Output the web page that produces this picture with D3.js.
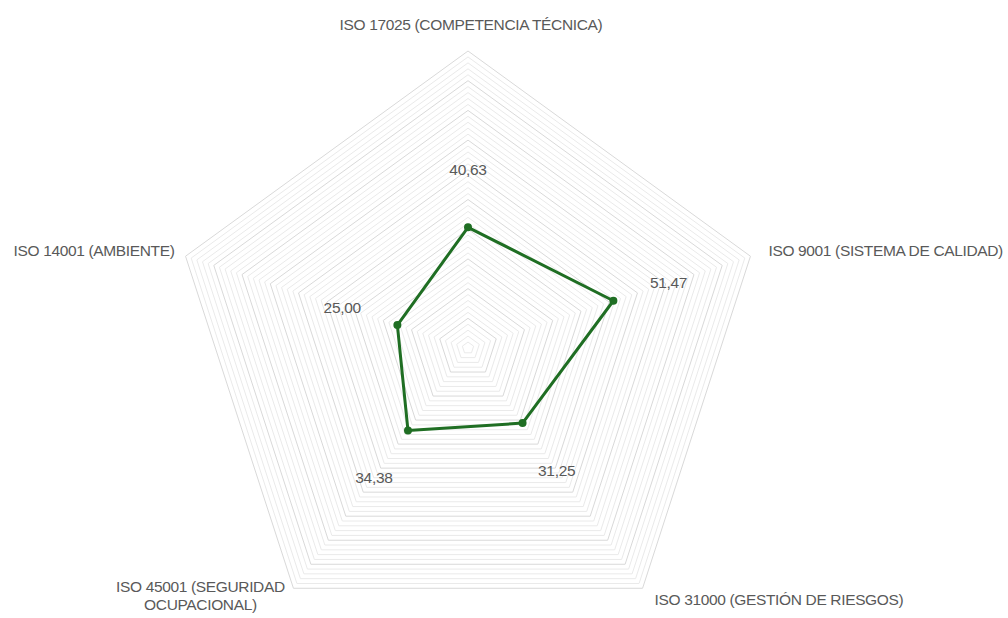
<!DOCTYPE html>
<html>
<head>
<meta charset="utf-8">
<script src="https://cdn.jsdelivr.net/npm/d3@7"></script>
<style>
  html, body { margin: 0; padding: 0; background: #fff; }
  svg { display: block; }
  text { font-family: "Liberation Sans", Arial, sans-serif; fill: #595959; }
</style>
</head>
<body>
<svg id="chart" width="1008" height="618"></svg>
<script>
// Categories (clockwise from the top) and scores
const categories = [
  ["ISO 17025 (COMPETENCIA TÉCNICA)"],
  ["ISO 9001 (SISTEMA DE CALIDAD)"],
  ["ISO 31000 (GESTIÓN DE RIESGOS)"],
  ["ISO 45001 (SEGURIDAD", "OCUPACIONAL)"],
  ["ISO 14001 (AMBIENTE)"]
];
const values = [40.63, 51.47, 31.25, 34.38, 25.00];
const valueLabels = ["40,63", "51,47", "31,25", "34,38", "25,00"];
const majorTicks = [10, 20, 30, 40, 50, 60, 70, 80, 90, 100];
const minorTicks = d3.range(2, 100, 2).filter(v => v % 10 !== 0);

const width = 1008, height = 618;
const cx = 468, cy = 348, R = 297;
const svg = d3.select("#chart");
const g = svg.append("g").attr("transform", `translate(${cx},${cy})`);

const r = d3.scaleLinear().domain([0, 100]).range([0, R]);
const angle = d3.scalePoint().domain(d3.range(categories.length))
  .range([0, 2 * Math.PI * (categories.length - 1) / categories.length]);

const pt = (i, rad) => [rad * Math.sin(angle(i)), -rad * Math.cos(angle(i))];
const ring = v => d3.range(categories.length).map(i => pt(i, r(v)));
const closed = d3.line().curve(d3.curveLinearClosed);

// Minor grid rings
g.selectAll("path.minor").data(minorTicks).join("path")
  .attr("class", "minor")
  .attr("d", v => closed(ring(v)))
  .attr("fill", "none").attr("stroke", "#eaeaea").attr("stroke-width", 1);

// Major grid rings
g.selectAll("path.major").data(majorTicks).join("path")
  .attr("class", "major")
  .attr("d", v => closed(ring(v)))
  .attr("fill", "none").attr("stroke", "#d9d9d9").attr("stroke-width", 1);

// Data series
const color = "#1f6e23";
g.append("path")
  .attr("d", closed(values.map((v, i) => pt(i, r(v)))))
  .attr("fill", "none").attr("stroke", color).attr("stroke-width", 3)
  .attr("stroke-linejoin", "round");

g.selectAll("circle.dot").data(values).join("circle")
  .attr("class", "dot")
  .attr("cx", (v, i) => pt(i, r(v))[0])
  .attr("cy", (v, i) => pt(i, r(v))[1])
  .attr("r", 4).attr("fill", color);

// Value labels, pushed outward along each spoke
g.selectAll("text.val").data(values).join("text")
  .attr("class", "val")
  .attr("x", (v, i) => pt(i, r(v) + 58)[0])
  .attr("y", (v, i) => pt(i, r(v) + 58)[1])
  .attr("text-anchor", "middle").attr("dominant-baseline", "central")
  .attr("font-size", 15.5).attr("letter-spacing", -0.3)
  .text((v, i) => valueLabels[i]);

// Category labels placed around the outer vertices
const catPlace = [
  { dx: 3, dy: -27, anchor: "middle" },
  { dx: 18, dy: -6, anchor: "start" },
  { dx: 12, dy: 11, anchor: "start" },
  { dx: -93, dy: -2, anchor: "middle" },
  { dx: -11, dy: -6, anchor: "end" }
];
categories.forEach((lines, i) => {
  const [x, y] = pt(i, R);
  const p = catPlace[i];
  const t = g.append("text")
    .attr("text-anchor", p.anchor)
    .attr("font-size", 15.5)
    .attr("letter-spacing", -0.35)
    .attr("dominant-baseline", "central");
  lines.forEach((ln, k) => {
    t.append("tspan").attr("x", x + p.dx).attr("y", y + p.dy + k * 18).text(ln);
  });
});
</script>
</body>
</html>
